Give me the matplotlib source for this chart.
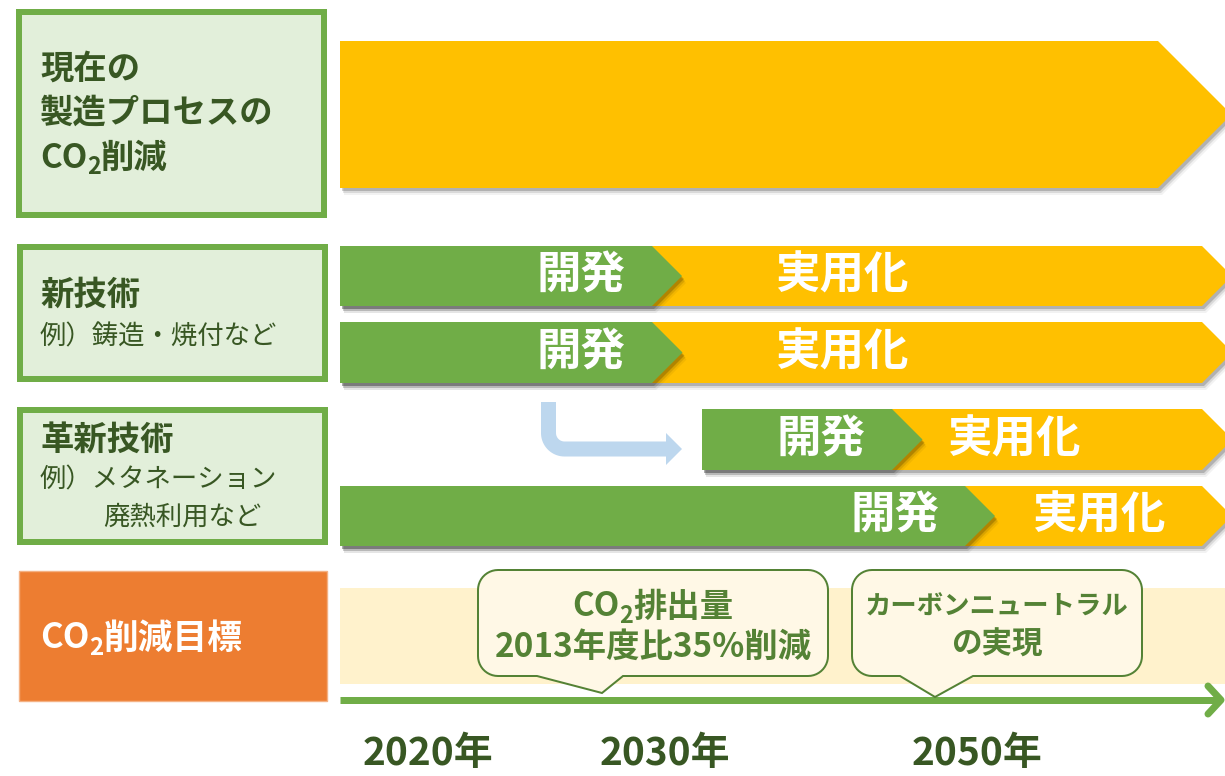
import matplotlib
matplotlib.use("Agg")
import numpy as np
import matplotlib.pyplot as plt
from matplotlib.patches import Polygon, Rectangle

plt.rcParams['font.family'] = ['Noto Sans CJK JP', 'DejaVu Sans']

# ---- data (schematic roadmap, positions on the timeline in pixel units) ----
years = ["2020年", "2030年", "2050年"]
year_pos = [428, 665, 977]

phase_names = ["開発", "実用化"]
# each roadmap bar: start of development, switch to practical use
bar_start = [340, 340, 702, 340]
bar_switch = [652, 652, 892, 965]
bar_end = 1202
practical_label_pos = [842, 842, 1014, 1099]

box_titles = [["現在の", "製造プロセスの", "CO|2|削減"], ["新技術"], ["革新技術"]]
box_examples = [[], ["例）鋳造・焼付など"], ["例）メタネーション", "廃熱利用など"]]
target_title = "CO|2|削減目標"
targets = [["CO|2|排出量", "2013年度比35%削減"], ["カーボンニュートラル", "の実現"]]
target_pos = [602, 935]

# ---- colours ----
GREEN = "#70AD47"
YELLOW = "#FFC000"
BOX_FILL = "#E2EFDA"
DARK = "#385723"
MID = "#548235"
ORANGE = "#ED7D31"
BAND = "#FFF2CC"
BLUE = "#BDD7EE"

W, H = 1225, 776
PT = 0.72  # points per pixel at dpi 100

fig = plt.figure(figsize=(12.25, 7.76), dpi=100)
ax = fig.add_axes([0, 0, 1, 1])
ax.set_xlim(0, W)
ax.set_ylim(H, 0)
ax.axis("off")
renderer = fig.canvas.get_renderer()


def arrow_pts(x0, x1, top, bot):
    mid = (top + bot) / 2
    tip = x1 + (bot - top) / 2
    return np.array([[x0, top], [x1, top], [tip, mid], [x1, bot], [x0, bot]])


def shaded(pts, color, z):
    for (dx, dy), a in zip([(2, 3), (3, 5), (4, 7)], [0.18, 0.10, 0.05]):
        ax.add_patch(Polygon(pts + [dx, dy], closed=True, color="black", alpha=a, lw=0, zorder=z - 0.5))
    ax.add_patch(Polygon(pts, closed=True, color=color, lw=0, zorder=z))


def rich_text(x, y, s, size, color, weight="bold", ha="left"):
    # "CO|2|..." -> middle part drawn as subscript
    parts = s.split("|")
    items = []
    for i, p in enumerate(parts):
        if not p:
            continue
        sub = (i % 2 == 1)
        fs = size * 0.7 if sub else size
        dy = size / PT * 0.28 if sub else 0
        t = ax.text(0, y + dy, p, fontsize=fs, color=color, weight=weight, ha="left", va="center", zorder=10)
        items.append((t, t.get_window_extent(renderer=renderer).width))
    total = sum(w for _, w in items)
    cx = x - total / 2 if ha == "center" else x
    for t, w in items:
        t.set_x(cx)
        cx += w


# ---- left boxes ----
boxes = [(19, 12, 305, 203), (20, 247, 305, 132), (20, 410, 305, 132)]
title_y = [[69, 113, 158], [295], [440]]
example_y = [[], [337], [480, 517]]
for (bx, by, bw, bh), titles, ty, exs, ey in zip(boxes, box_titles, title_y, box_examples, example_y):
    ax.add_patch(Rectangle((bx, by), bw, bh, facecolor=BOX_FILL, edgecolor=GREEN, lw=6 * PT, zorder=2))
    for s, yy in zip(titles, ty):
        rich_text(40, yy, s, 24, DARK)
    for k, (s, yy) in enumerate(zip(exs, ey)):
        ax.text(40 if k == 0 else 103, yy, s, fontsize=19, color=DARK, ha="left", va="center", zorder=10)

ax.add_patch(Rectangle((19, 571), 308, 130, facecolor=ORANGE, edgecolor="#F4B183", lw=1, zorder=2))
rich_text(40, 638, target_title, 25, "white")

# ---- current process: big arrow ----
shaded(arrow_pts(340, 1158, 41, 188), YELLOW, 3)

# ---- roadmap bars ----
rows = [(246, 306), (322, 383), (409, 470), (486, 546)]
for (top, bot), x0, xs, px in zip(rows, bar_start, bar_switch, practical_label_pos):
    mid = (top + bot) / 2
    shaded(arrow_pts(x0, bar_end, top, bot), YELLOW, 3)
    shaded(arrow_pts(x0, xs, top, bot), GREEN, 4)
    ax.text(xs - 26, mid, phase_names[0], fontsize=32, color="white", weight="bold", ha="right", va="center", zorder=10)
    ax.text(px, mid, phase_names[1], fontsize=32, color="white", weight="bold", ha="center", va="center", zorder=10)

# blue turn arrow
theta = np.linspace(np.pi, np.pi / 2, 20)
bx = np.concatenate([[548.5], 564.5 + 16 * np.cos(theta), [668]])
by = np.concatenate([[402], 433 + 16 * np.sin(theta), [449]])
ax.plot(bx, by, color=BLUE, lw=15 * PT, solid_capstyle="butt", zorder=3)
ax.add_patch(Polygon([[666, 433], [682, 449], [666, 465]], closed=True, color=BLUE, lw=0, zorder=3))

# ---- CO2 targets ----
ax.add_patch(Rectangle((340, 588), 885, 96, color=BAND, lw=0, zorder=1))
ax.plot([340, 1219], [700, 700], color=GREEN, lw=7 * PT, solid_capstyle="butt", zorder=3)
ax.plot([1208, 1221, 1208], [686, 700, 714], color=GREEN, lw=7 * PT,
        solid_capstyle="round", solid_joinstyle="round", zorder=3)


def callout(x0, x1, y0, y1, pl, pr, tip, r=20):
    pts = []
    for cx, cy, a0, a1 in [(x0 + r, y0 + r, 180, 270), (x1 - r, y0 + r, 270, 360), (x1 - r, y1 - r, 0, 90)]:
        a = np.radians(np.linspace(a0, a1, 12))
        pts += list(zip(cx + r * np.cos(a), cy + r * np.sin(a)))
    pts += [(pr, y1), tip, (pl, y1)]
    a = np.radians(np.linspace(90, 180, 12))
    pts += list(zip(x0 + r + r * np.cos(a), y1 - r + r * np.sin(a)))
    ax.add_patch(Polygon(pts, closed=True, facecolor="#FFF8E6", edgecolor=MID, lw=2 * PT, zorder=5))


callout(478, 828, 570, 676, 537, 623, (target_pos[0], 693))
callout(852, 1142, 570, 676, 900, 973, (target_pos[1], 697))
rich_text(653, 607, targets[0][0], 24, MID, ha="center")
rich_text(653, 647, targets[0][1], 24, MID, ha="center")
ax.text(997, 607, targets[1][0], fontsize=19, color=MID, weight="bold", ha="center", va="center", zorder=10)
ax.text(997, 645, targets[1][1], fontsize=22, color=MID, weight="bold", ha="center", va="center", zorder=10)

for s, x in zip(years, year_pos):
    ax.text(x, 754, s, fontsize=28, color=DARK, weight="bold", ha="center", va="center", zorder=10)

fig.savefig("out.png", dpi=100, facecolor="white")
